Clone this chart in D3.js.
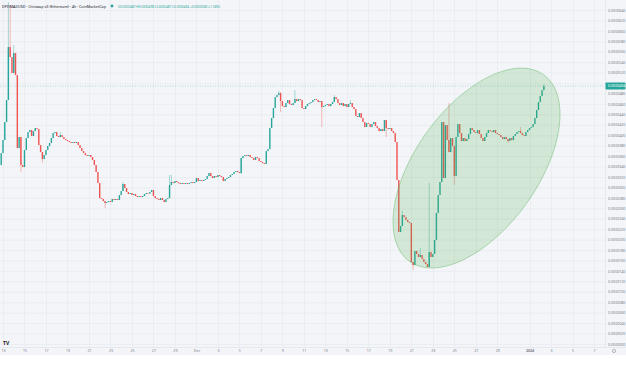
<!DOCTYPE html>
<html><head><meta charset="utf-8">
<script src="https://cdn.jsdelivr.net/npm/d3@7"></script>
<style>
html,body{margin:0;padding:0;background:#fff;}
svg{display:block;font-family:"Noto Sans",Roboto,sans-serif;}
</style>
</head><body>
<svg id="c" width="626" height="370"></svg>
<script>
// ---------- data (prices in micro-USD, 1 unit = 0.000001 USD) ----------
const symbolTitle = "DPDMAI/USD · Uniswap v3 (Ethereum) · 4h · CoinMarketCap";
const firstCandleTime = "2023-11-12T20:00:00Z";
const candleHours = 4;
const firstOpen = 34.29;
const closes = [
36.59,39.08,42.53,46.74,56.90,54.98,51.92,55.75,51.53,37.55,
39.66,34.29,33.91,37.16,39.46,40.61,41.00,39.85,40.80,41.38,
41.19,38.12,36.78,35.44,36.21,37.16,37.93,38.51,39.46,40.42,
40.61,39.85,39.66,40.04,39.66,39.27,39.08,38.89,38.70,38.51,
38.70,38.51,38.70,38.12,37.55,36.97,36.59,36.21,36.02,36.21,
35.82,35.25,34.29,32.95,30.84,27.97,27.78,27.39,27.01,27.20,
27.39,27.20,27.78,27.59,27.78,27.59,28.54,29.31,30.65,29.89,
29.12,28.74,28.93,28.54,28.74,28.35,28.16,28.35,28.16,28.35,
28.74,28.93,28.83,29.12,29.50,28.35,27.97,27.78,27.59,27.97,
27.59,27.20,27.78,27.97,30.46,31.03,30.84,31.23,31.03,30.84,
30.65,30.84,30.65,30.84,30.65,30.84,31.03,30.84,31.03,31.80,
31.23,31.42,31.23,31.42,31.61,32.18,32.76,32.18,31.80,32.18,
31.99,32.38,32.18,31.99,31.23,31.61,31.80,31.99,32.38,32.57,
32.95,33.14,32.95,32.76,35.63,36.02,36.21,36.02,36.21,35.82,
35.63,35.25,35.82,35.63,35.06,34.87,34.67,34.48,36.97,37.36,
41.38,43.30,45.21,47.32,47.70,48.08,46.55,45.59,45.40,46.17,
46.74,45.98,45.79,46.17,46.93,46.55,46.93,46.74,45.21,45.02,
45.59,45.98,46.17,46.36,46.74,46.93,46.74,46.36,46.55,45.40,
45.59,45.79,45.98,45.59,45.98,46.36,47.32,46.93,46.17,45.79,
46.17,45.59,45.98,45.40,45.98,46.17,45.40,45.02,43.68,43.49,
44.25,43.30,42.53,41.57,42.34,42.15,41.57,42.15,42.53,41.76,
41.38,40.80,41.19,40.80,42.91,41.38,41.19,41.38,40.80,40.42,
38.70,31.42,21.46,22.61,24.71,24.33,23.75,23.37,23.18,15.71,
15.13,17.82,17.24,16.67,17.05,16.28,15.71,15.33,14.75,17.62,
16.67,17.24,19.92,25.10,28.54,31.03,42.53,31.80,41.95,39.08,
36.78,39.46,37.93,32.18,39.66,42.15,40.42,38.89,39.46,38.89,
39.27,40.23,41.38,41.00,40.61,40.42,41.00,40.23,39.46,38.89,
39.66,40.42,41.00,40.80,40.61,41.00,40.42,40.23,40.04,39.66,
39.27,39.66,39.27,38.89,39.46,39.08,39.85,40.23,40.61,40.80,
40.42,40.04,39.85,40.61,41.00,41.38,41.57,42.15,43.30,44.83,
46.36,47.51,48.66,49.43
];
// [candle index, high, low] for candles with visible wicks
const wickExtremes = [
[4,65.5,null],[5,64.9,null],[7,57.28,null],[11,null,32.95],[23,null,34.67],
[33,40.61,null],[58,null,26.05],[68,31.03,null],[94,32.38,null],[95,32.38,null],
[134,null,32.57],[155,48.47,null],[156,48.28,44.44],[164,48.66,null],[179,null,41.57],
[186,47.70,null],[195,46.74,null],[215,null,39.66],[224,25.48,null],[230,null,14.18],
[234,18.39,null],[239,30.84,null],[250,46.17,null],[253,null,30.46],[283,null,38.51],
[290,41.57,null],[303,49.81,null]
];
const priceTicks = [0,2,4,6,8,10,12,14,16,18,20,22,24,26,28,30,32,34,36,38,40,42,44,46,48,50,52,54,56,58,60,62,64];
const timeTickDates = ["2023-11-13","2023-11-15","2023-11-17","2023-11-19","2023-11-21","2023-11-23","2023-11-25","2023-11-27","2023-11-29",
  "2023-12-01","2023-12-03","2023-12-05","2023-12-07","2023-12-09","2023-12-11","2023-12-13","2023-12-15","2023-12-17","2023-12-19",
  "2023-12-21","2023-12-23","2023-12-25","2023-12-27","2023-12-29","2024-01-01","2024-01-03","2024-01-05","2024-01-07"];
const timeTickLabels = ["13","15","17","19","21","23","25","27","29","Dec","3","5","7","9","11","13","15","17","19",
  "21","23","25","27","29","2024","3","5","7"];
// highlighted ellipse: ends of its long axis (time, price) and short/long ratio
const ellipseAxisEnds = [["2023-12-20T19:40:00Z",15.82],["2024-01-02T07:30:00Z",51.61]];
const ellipseShortRatio = 0.533;

// ---------- build ----------
const UP = "#26a69a", DOWN = "#ef5350";
const fmt = v => (v * 1e-6).toFixed(7);
const t0 = new Date(firstCandleTime).getTime();
const wickMap = new Map(wickExtremes.map(w => [w[0], w]));
const candles = closes.map((c, i) => {
  const o = i === 0 ? firstOpen : closes[i - 1];
  const w = wickMap.get(i);
  let h = Math.max(o, c), l = Math.min(o, c);
  if (w && w[1] != null) h = Math.max(h, w[1]);
  if (w && w[2] != null) l = Math.min(l, w[2]);
  return {t: new Date(t0 + i * candleHours * 3600e3), o, h, l, c};
});

const svg = d3.select("#c");
const plotR = 605, axisY = 347;
svg.append("rect").attr("x",0).attr("y",0).attr("width",626).attr("height",355).attr("fill","#f4f5f8");

const x = d3.scaleUtc().domain([new Date("2023-11-13T00:00:00Z"), new Date("2024-01-07T00:00:00Z")]).range([3, 594]);
const y = d3.scaleLinear().domain([0, 64]).range([344, 10]);

svg.append("defs").append("clipPath").attr("id","pc").append("rect")
  .attr("x",0).attr("y",0).attr("width",plotR).attr("height",axisY);

// grid
const grid = svg.append("g").attr("clip-path","url(#pc)");
grid.selectAll("line.h").data(priceTicks).join("line")
  .attr("x1",0).attr("x2",plotR).attr("y1",d=>y(d)+0.5).attr("y2",d=>y(d)+0.5)
  .attr("stroke","#e7e9ee").attr("stroke-width",0.7);
grid.selectAll("line.v").data(timeTickDates).join("line")
  .attr("x1",d=>Math.round(x(new Date(d+"T00:00:00Z")))+0.5).attr("x2",d=>Math.round(x(new Date(d+"T00:00:00Z")))+0.5)
  .attr("y1",0).attr("y2",axisY)
  .attr("stroke","#e7e9ee").attr("stroke-width",0.7);

// candles
const cg = svg.append("g").attr("clip-path","url(#pc)");
cg.selectAll("line.w").data(candles.filter(d => d.h > Math.max(d.o,d.c) || d.l < Math.min(d.o,d.c))).join("line")
  .attr("x1",d=>x(d.t)).attr("x2",d=>x(d.t)).attr("y1",d=>y(d.h)).attr("y2",d=>y(d.l))
  .attr("stroke",d=>d.c>=d.o?UP:DOWN).attr("stroke-width",0.7).attr("stroke-opacity",0.55);
cg.selectAll("rect.b").data(candles).join("rect")
  .attr("x",d=>x(d.t)-0.7).attr("width",1.4)
  .attr("y",d=>y(Math.max(d.o,d.c)))
  .attr("height",d=>Math.max(0.8, Math.abs(y(d.o)-y(d.c))))
  .attr("fill",d=>d.c>=d.o?UP:DOWN);

// last price line
const last = candles[candles.length-1];
svg.append("line").attr("x1",0).attr("x2",plotR).attr("y1",y(last.c)).attr("y2",y(last.c))
  .attr("stroke",UP).attr("stroke-width",0.6).attr("stroke-dasharray","1,1.5").attr("opacity",0.6);

// ellipse annotation
const p1 = [x(new Date(ellipseAxisEnds[0][0])), y(ellipseAxisEnds[0][1])];
const p2 = [x(new Date(ellipseAxisEnds[1][0])), y(ellipseAxisEnds[1][1])];
const ecx = (p1[0]+p2[0])/2, ecy = (p1[1]+p2[1])/2;
const erx = Math.hypot(p2[0]-p1[0], p2[1]-p1[1]) / 2;
const eang = Math.atan2(p2[1]-p1[1], p2[0]-p1[0]) * 180 / Math.PI;
svg.append("ellipse").attr("cx",ecx).attr("cy",ecy).attr("rx",erx).attr("ry",erx*ellipseShortRatio)
  .attr("transform",`rotate(${eang},${ecx},${ecy})`)
  .attr("fill","rgba(76,175,80,0.2)").attr("stroke","rgba(76,175,80,0.45)").attr("stroke-width",0.8);

// axes separators
svg.append("line").attr("x1",plotR+0.5).attr("x2",plotR+0.5).attr("y1",0).attr("y2",axisY).attr("stroke","#e0e3eb").attr("stroke-width",0.7);
svg.append("line").attr("x1",0).attr("x2",626).attr("y1",axisY+0.5).attr("y2",axisY+0.5).attr("stroke","#e0e3eb").attr("stroke-width",0.7);

// price axis (labels hidden where the current-price label sits)
const ly = y(last.c);
const ya = svg.append("g").attr("transform",`translate(${plotR+1},0)`)
  .call(d3.axisRight(y).tickValues(priceTicks.filter(v => Math.abs(y(v) - ly) > 6)).tickFormat(fmt).tickSize(0).tickPadding(2));
ya.select(".domain").remove();
ya.selectAll("text").attr("font-size","3.6px").attr("fill","#787b86").attr("font-family","'Noto Sans',sans-serif");

// time axis
const xa = svg.append("g").attr("transform",`translate(0,${axisY})`)
  .call(d3.axisBottom(x).tickValues(timeTickDates.map(d=>new Date(d+"T00:00:00Z")))
    .tickFormat((d,i)=>timeTickLabels[i]).tickSize(0).tickPadding(2));
xa.select(".domain").remove();
xa.selectAll("text").attr("font-size","3.6px").attr("fill","#787b86").attr("font-family","'Noto Sans',sans-serif")
  .attr("font-weight",(d,i)=>timeTickLabels[i]==="2024"?"bold":"normal");

// current price label
svg.append("rect").attr("x",plotR+0.5).attr("y",ly-3.5).attr("width",20).attr("height",7).attr("fill",UP).attr("rx",0.8);
svg.append("text").attr("x",plotR+3).attr("y",ly).attr("dy","0.35em").attr("font-size","3.6px").attr("fill","#fff").text(fmt(last.c));

// header
svg.append("text").attr("x",2).attr("y",7.5).attr("font-size","4.2px").attr("fill","#131722")
  .attr("textLength",104).attr("lengthAdjust","spacingAndGlyphs").text(symbolTitle);
svg.append("circle").attr("cx",112).attr("cy",6).attr("r",1.4).attr("fill",UP);
const prev = candles[candles.length-2].c;
const chg = last.c - prev;
const ohlc = `O${fmt(last.o)} H${fmt(last.h)} L${fmt(last.l)} C${fmt(last.c)} ${chg>=0?"+":"-"}${fmt(Math.abs(chg))} (${chg>=0?"+":"-"}${(Math.abs(chg)/prev*100).toFixed(2)}%)`;
svg.append("text").attr("x",118).attr("y",7.5).attr("font-size","3.4px").attr("fill",UP)
  .attr("textLength",102).attr("lengthAdjust","spacingAndGlyphs").text(ohlc);

// logo & settings icon
svg.append("text").attr("x",3).attr("y",344.5).attr("font-size","5px").attr("font-weight","bold").attr("fill","#131722").text("TV");
svg.append("circle").attr("cx",614).attr("cy",351).attr("r",1.6).attr("fill","none").attr("stroke","#888").attr("stroke-width",0.6);
</script>
</body></html>
